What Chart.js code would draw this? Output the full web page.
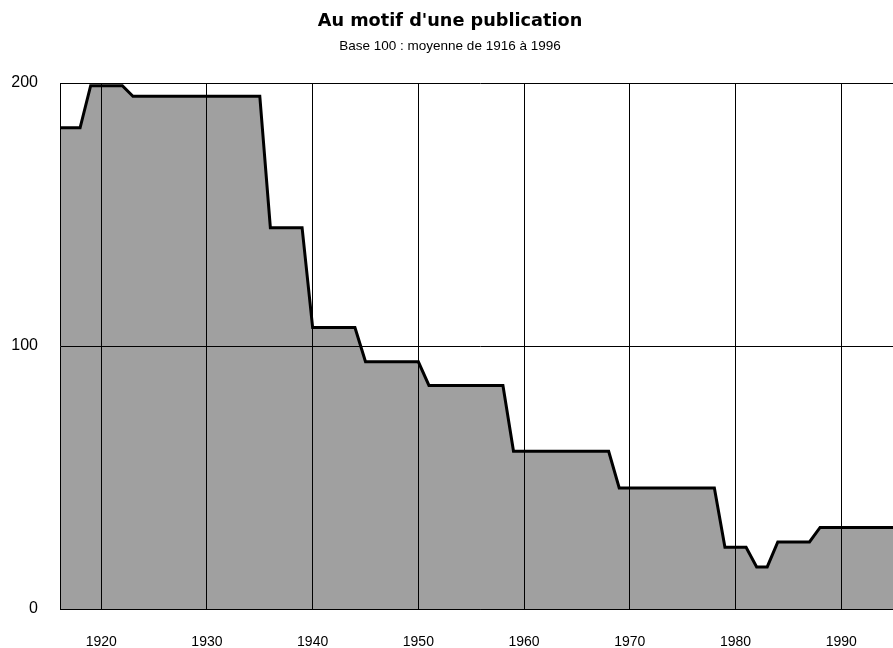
<!DOCTYPE html>
<html>
<head>
<meta charset="utf-8">
<script src="https://cdn.jsdelivr.net/npm/chart.js@4/dist/chart.umd.min.js"></script>
<style>
html,body{margin:0;padding:0;background:#fff;overflow:hidden;}
#wrap{width:900px;height:648px;}
</style>
</head>
<body>
<div id="wrap"><canvas id="c" width="900" height="648"></canvas></div>
<script>
const years = [1916,1917,1918,1919,1920,1921,1922,1923,1924,1925,1926,1927,1928,1929,1930,1931,1932,1933,1934,1935,
  1936,1937,1938,1939,1940,1941,1942,1943,1944,1945,1946,1947,1948,1949,1950,1951,1952,1953,1954,1955,1956,1957,1958,
  1959,1960,1961,1962,1963,1964,1965,1966,1967,1968,1969,1970,1971,1972,1973,1974,1975,1976,1977,1978,1979,1980,1981,
  1982,1983,1984,1985,1986,1987,1988,1989,1990,1991,1992,1993,1994,1995,1996];
const values = [183,183,183,199,199,199,199,195,195,195,195,195,195,195,195,195,195,195,195,195,
  145,145,145,145,107,107,107,107,107,94,94,94,94,94,94,85,85,85,85,85,85,85,85,
  60,60,60,60,60,60,60,60,60,60,46,46,46,46,46,46,46,46,46,46,23.5,23.5,23.5,
  16,16,25.5,25.5,25.5,25.5,31,31,31,31,31,31,31,31,31];
const xTicks = [1920,1930,1940,1950,1960,1970,1980,1990];
const yTicks = [0,100,200];
const titleText = "Au motif d'une publication";
const subtitleText = "Base 100 : moyenne de 1916 à 1996";

const points = years.map((y,i)=>({x:y,y:values[i]}));

new Chart(document.getElementById('c'), {
  type: 'line',
  data: {
    datasets: [{
      data: points,
      borderColor: '#000',
      borderWidth: 3,
      backgroundColor: '#A0A0A0',
      fill: 'origin',
      pointRadius: 0,
      tension: 0
    }]
  },
  options: {
    responsive: false,
    animation: false,
    devicePixelRatio: 1,
    layout: {padding: 0},
    plugins: {
      legend: {display: false},
      tooltip: {enabled: false},
      title: {
        display: true,
        text: titleText,
        color: '#000',
        font: {family: '"DejaVu Sans"', size: 17.7, weight: 'bold', lineHeight: 1.2},
        padding: {top: 10.5, bottom: 3.5}
      },
      subtitle: {
        display: true,
        text: subtitleText,
        color: '#000',
        font: {family: '"Liberation Sans", Arial', size: 13.5, lineHeight: 1.2},
        padding: {top: 3, bottom: 28.6}
      }
    },
    scales: {
      x: {
        type: 'linear',
        min: 1916.1,
        max: 1995.56,
        afterBuildTicks: s => { s.ticks = xTicks.map(v=>({value:v})); },
        afterFit: s => { s.height = 39; },
        grid: {color: '#000', lineWidth: 1, drawTicks: false, z: 1},
        border: {display: true, color: '#000', width: 1, z: 2},
        ticks: {
          color: '#000',
          font: {family: '"Liberation Sans", Arial', size: 14},
          padding: 25,
          maxRotation: 0,
          callback: v => String(v)
        }
      },
      y: {
        min: 0,
        max: 200,
        afterBuildTicks: s => { s.ticks = yTicks.map(v=>({value:v})); },
        afterFit: s => { s.width = 60; },
        grid: {color: '#000', lineWidth: 1, drawTicks: false, z: 1},
        border: {display: true, color: '#000', width: 1, z: 2},
        ticks: {
          color: '#000',
          font: {family: '"Liberation Sans", Arial', size: 16},
          padding: 22,
          callback: v => String(v)
        }
      }
    }
  }
});
</script>
</body>
</html>
